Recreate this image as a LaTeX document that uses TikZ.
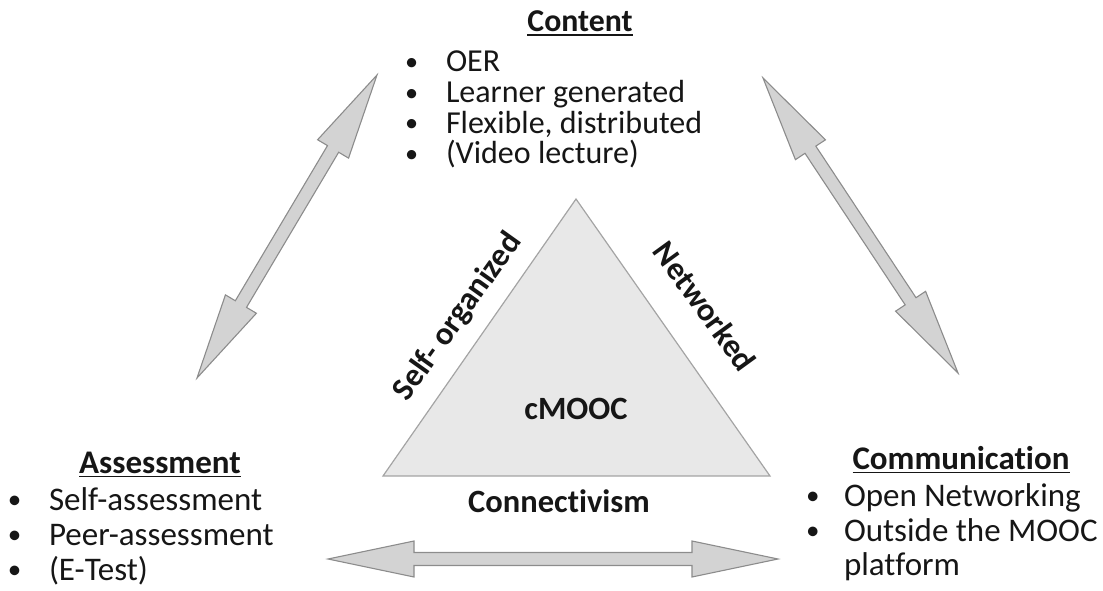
\documentclass[tikz,border=0pt]{standalone}
\usepackage{fontspec}
\setmainfont{Carlito}[Ligatures=NoCommon]
\usetikzlibrary{calc}

\definecolor{txt}{HTML}{161616}
\definecolor{trifill}{HTML}{E8E8E8}
\definecolor{triline}{HTML}{A4A4A4}
\definecolor{arrfill}{HTML}{D3D3D3}
\definecolor{arrline}{HTML}{8C8C8C}

% bullet column of a list line
\newcommand\bulletbox[2]{\makebox[#1][l]{\raisebox{1.6pt}{\scalebox{0.82}{\textbullet}}}#2}

% double-headed block arrow between two named coordinates
\newcommand\blockarrow[2]{%
  \filldraw[blockarr] (#1)
    -- ($(#1)!\arHeadLen!(#2)!\arHeadHalf!90:(#2)$)
    -- ($(#1)!\arHeadLen!(#2)!\arShaftHalf!90:(#2)$)
    -- ($(#2)!\arHeadLen!(#1)!\arShaftHalf!-90:(#1)$)
    -- ($(#2)!\arHeadLen!(#1)!\arHeadHalf!-90:(#1)$)
    -- (#2)
    -- ($(#2)!\arHeadLen!(#1)!\arHeadHalf!90:(#1)$)
    -- ($(#2)!\arHeadLen!(#1)!\arShaftHalf!90:(#1)$)
    -- ($(#1)!\arHeadLen!(#2)!\arShaftHalf!-90:(#2)$)
    -- ($(#1)!\arHeadLen!(#2)!\arHeadHalf!-90:(#2)$)
    -- cycle;}
\newcommand\arHeadLen{86pt}
\newcommand\arHeadHalf{18pt}
\newcommand\arShaftHalf{6.5pt}

\begin{document}
\begin{tikzpicture}[x=1pt,y=-1pt,
  every node/.style={inner sep=0pt, outer sep=0pt, text=txt},
  contentline/.style={font=\fontsize{32}{31}\selectfont, anchor=base west},
  sideline/.style={font=\fontsize{33}{33}\selectfont, anchor=base west},
  contenthead/.style={font=\fontsize{31.8}{31}\selectfont\bfseries, anchor=base},
  sidehead/.style={font=\fontsize{33}{33}\selectfont\bfseries, anchor=base},
  centrelabel/.style={font=\fontsize{32.5}{32}\selectfont\bfseries},
  underbar/.style={line width=1.8pt, draw=txt},
  blockarr/.style={fill=arrfill, draw=arrline, line width=1.1pt, line join=miter},
  tri/.style={fill=trifill, draw=triline, line width=1.2pt, line join=miter}]

\useasboundingbox (0,0) rectangle (1103,591);

% central triangle
\coordinate (apex) at (576,199);
\coordinate (baseL) at (383,476);
\coordinate (baseR) at (770,476);
\filldraw[tri] (apex) -- (baseL) -- (baseR) -- cycle;

\node[centrelabel] (cmooc) at (576,409) {cMOOC};
\node[centrelabel, rotate=54.5] (selforg) at (458,317) {Self- organized};
\node[centrelabel, rotate=-54] (networked) at (705,306) {Networked};
\node[centrelabel, anchor=base] (connect) at (559,512) {Connectivism};

% Content
\node[contenthead] (hcontent) at (580,32) {Content};
\draw[underbar] ([yshift=-3.2pt]hcontent.base west) -- ([yshift=-3.2pt]hcontent.base east);
\node[contentline] (c1) at (405,72)  {\bulletbox{41pt}{OER}};
\node[contentline] (c2) at (405,103) {\bulletbox{41pt}{Learner generated}};
\node[contentline] (c3) at (405,133.5) {\bulletbox{41pt}{Flexible, distributed}};
\node[contentline] (c4) at (405,164) {\bulletbox{41pt}{(Video lecture)}};

% Assessment
\node[sidehead] (hassess) at (160,473) {Assessment};
\draw[underbar] ([yshift=-3.4pt]hassess.base west) -- ([yshift=-3.4pt]hassess.base east);
\node[sideline] (a1) at (8,510) {\bulletbox{41pt}{Self-assessment}};
\node[sideline] (a2) at (8,545) {\bulletbox{41pt}{Peer-assessment}};
\node[sideline] (a3) at (8,580) {\bulletbox{41pt}{(E-Test)}};

% Communication
\node[sidehead] (hcomm) at (961,469) {Communication};
\draw[underbar] ([yshift=-3.4pt]hcomm.base west) -- ([yshift=-3.4pt]hcomm.base east);
\node[sideline] (m1) at (806,506) {\bulletbox{38pt}{Open Networking}};
\node[sideline] (m2) at (806,541) {\bulletbox{38pt}{Outside the MOOC}};
\node[sideline] (m3) at (844,575) {platform};

% connecting block arrows
\coordinate (lTop) at (377,75);
\coordinate (lBot) at (197,378);
\coordinate (rTop) at (763,78);
\coordinate (rBot) at (958,373);
\coordinate (hL) at (328,559);
\coordinate (hR) at (778,559);
\blockarrow{lTop}{lBot}
\blockarrow{rTop}{rBot}
\blockarrow{hL}{hR}
\end{tikzpicture}
\end{document}
